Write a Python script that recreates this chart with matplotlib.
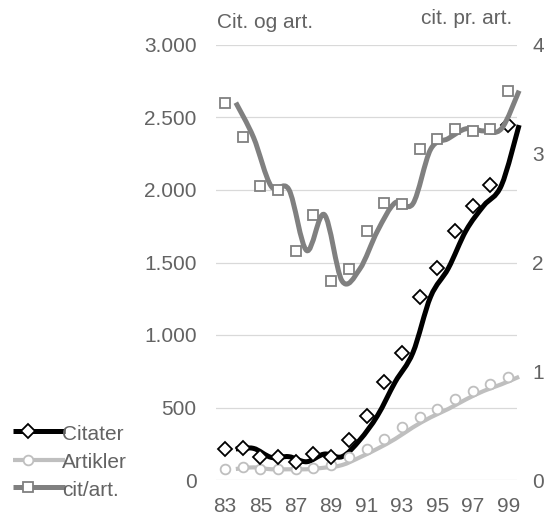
import numpy as np
import matplotlib
matplotlib.use('Agg')
import matplotlib.pyplot as plt
from matplotlib.path import Path
from matplotlib.patches import PathPatch
from matplotlib.lines import Line2D

plt.rcParams['font.family'] = ['Liberation Sans', 'DejaVu Sans']

# data
years = [83, 84, 85, 86, 87, 88, 89, 90, 91, 92, 93, 94, 95, 96, 97, 98, 99]
citater = [214, 218, 156, 161, 126, 179, 161, 276, 444, 676, 878, 1264, 1460, 1720, 1892, 2032, 2448]
artikler = [76, 87, 74, 74, 74, 85, 103, 156, 216, 283, 363, 432, 490, 556, 614, 660, 712]
cit_pr_art = [3.47, 3.15, 2.70, 2.67, 2.11, 2.44, 1.83, 1.94, 2.29, 2.55, 2.54, 3.04, 3.14, 3.23, 3.21, 3.23, 3.58]
tick_years = [83, 85, 87, 89, 91, 93, 95, 97, 99]
left_ticks = [0, 500, 1000, 1500, 2000, 2500, 3000]
left_labels = ['0', '500', '1.000', '1.500', '2.000', '2.500', '3.000']
right_ticks = [0, 1, 2, 3, 4]

TXT = '#636363'
FS = 15
W, H = 556, 523


def smooth_path(x, y):
    # Bezier path through the points (like a smoothed Excel line)
    pts = np.column_stack([x, y]).astype(float)
    n = len(pts)
    verts = [pts[0]]
    codes = [Path.MOVETO]
    for i in range(n - 1):
        p0 = pts[i - 1] if i > 0 else pts[i]
        p1 = pts[i]
        p2 = pts[i + 1]
        p3 = pts[i + 2] if i + 2 < n else pts[i + 1]
        c1 = p1 + (p2 - p0) / 6.0
        c2 = p2 - (p3 - p1) / 6.0
        verts += [c1, c2, p2]
        codes += [Path.CURVE4] * 3
    return Path(verts, codes)


fig = plt.figure(figsize=(W / 100, H / 100), dpi=100)
ax = fig.add_axes([216 / W, 1 - 480 / H, (517 - 216) / W, (480 - 45) / H])
ax2 = ax.twinx()

shift = 0.62
xs = np.array(years) + shift

# smoothed lines
for vals, col, lw in [(artikler, '#BFBFBF', 3.0), (citater, '#000000', 3.6)]:
    ax.add_patch(PathPatch(smooth_path(xs, vals), fill=False, edgecolor=col,
                           lw=lw, capstyle='butt', joinstyle='round', zorder=2, clip_on=False))
ax2.add_patch(PathPatch(smooth_path(xs, cit_pr_art), fill=False, edgecolor='#808080',
                        lw=3.6, capstyle='butt', joinstyle='round', zorder=2, clip_on=False))

# markers
ax.plot(years, artikler, ls='none', marker='o', ms=7, mfc='white', mec='#BFBFBF', mew=1.3,
        zorder=3, clip_on=False)
ax.plot(years, citater, ls='none', marker='D', ms=6.8, mfc='white', mec='#000000', mew=1.3,
        zorder=4, clip_on=False)
ax2.plot(years, cit_pr_art, ls='none', marker='s', ms=6.8, mfc='white', mec='#808080', mew=1.3,
         zorder=3, clip_on=False)

ax.set_xlim(82.5, 99.5)
ax.set_ylim(0, 3000)
ax2.set_ylim(0, 4)
ax.set_xticks(tick_years)
ax.set_xticklabels([str(y) for y in tick_years])
ax.set_yticks(left_ticks)
ax.set_yticklabels(left_labels)
ax2.set_yticks(right_ticks)
ax2.set_yticklabels([str(t) for t in right_ticks])

ax.grid(axis='y', color='#D9D9D9', lw=0.9)
ax.set_axisbelow(True)
for a in (ax, ax2):
    for s in a.spines.values():
        s.set_visible(False)
ax.tick_params(axis='y', length=0, pad=14, labelsize=FS, labelcolor=TXT)
ax.tick_params(axis='x', length=0, pad=12, labelsize=FS, labelcolor=TXT)
ax2.tick_params(axis='y', length=0, pad=11, labelsize=FS, labelcolor=TXT)

fig.text(217 / W, 1 - 22 / H, 'Cit. og art.', fontsize=FS, color=TXT, ha='left', va='center')
fig.text(512 / W, 1 - 19 / H, 'cit. pr. art.', fontsize=FS, color=TXT, ha='right', va='center')

# legend drawn by hand (long lines, labels overlapping line ends)
leg = [('Citater', '#000000', 3.6, 'D', 6.8, 431),
       ('Artikler', '#BFBFBF', 3.0, 'o', 7, 460),
       ('cit/art.', '#808080', 3.6, 's', 6.8, 487)]
for label, col, lw, mk, ms, yp in leg:
    yy = 1 - yp / H
    fig.add_artist(Line2D([13 / W, 65 / W], [yy, yy], color=col, lw=lw, solid_capstyle='butt'))
    fig.add_artist(Line2D([28 / W], [yy], ls='none', marker=mk, ms=ms, mfc='white', mec=col, mew=1.3))
    fig.text(62 / W, yy - 3 / H, label, fontsize=FS, color=TXT, ha='left', va='center')

fig.savefig('out.png', dpi=100)
